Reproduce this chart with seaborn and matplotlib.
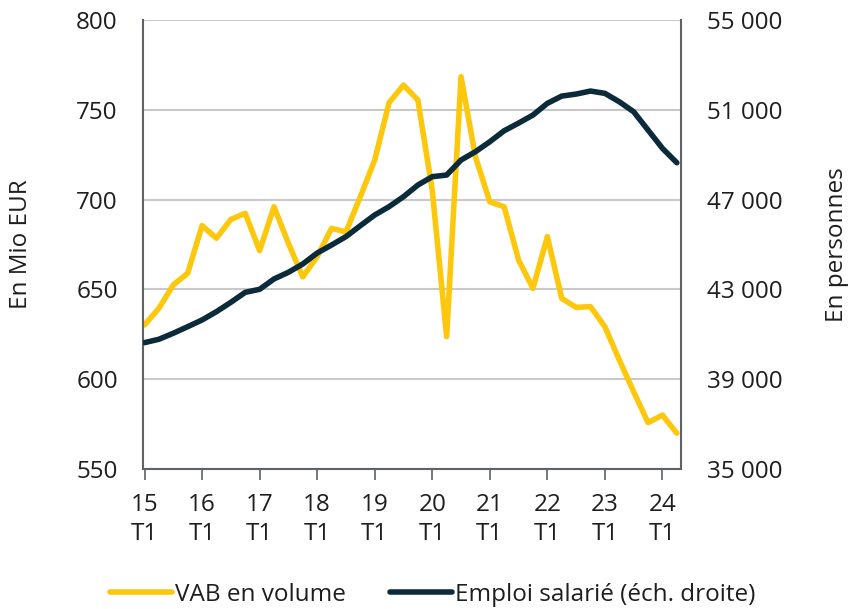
import numpy as np
import pandas as pd
import matplotlib
matplotlib.use("Agg")
import matplotlib.pyplot as plt
import seaborn as sns
from matplotlib.ticker import FuncFormatter, FixedLocator

# -----------------------------
# DATA (quarterly, 2015 T1 -> 2024 T2)
# -----------------------------
years = list(range(15, 25))
vab_volume = [630.2, 639.5, 652.5, 659.0, 685.5, 678.5, 689.0, 692.4, 671.6, 696.0,
              675.7, 657.0, 668.2, 684.0, 682.0, 701.6, 722.0, 754.0, 763.8, 755.5,
              705.3, 623.7, 768.5, 723.9, 698.8, 696.0, 666.4, 650.6, 679.4, 645.0,
              640.0, 640.4, 629.2, 610.7, 593.0, 575.8, 580.0, 569.9]
emploi_salarie = [40627, 40778, 41046, 41339, 41638, 42008, 42424, 42869, 43004, 43465,
                  43762, 44132, 44620, 44978, 45350, 45838, 46315, 46687, 47130, 47651,
                  48022, 48096, 48764, 49134, 49580, 50070, 50410, 50769, 51290, 51615,
                  51704, 51838, 51735, 51361, 50916, 50101, 49286, 48644]

left_ticks = [550, 600, 650, 700, 750, 800]
right_ticks = [35000, 39000, 43000, 47000, 51000, 55000]

YELLOW = "#FDC70C"
NAVY = "#0C2B3A"
SPINE = "#5f6266"
TEXT = "#1e1e1e"
FS = 17.5

df = pd.DataFrame({
    "q": np.arange(len(vab_volume)),
    "vab": vab_volume,
    "emploi": emploi_salarie,
})

# -----------------------------
# PLOT
# -----------------------------
sns.set_theme(style="white")
plt.rcParams["font.family"] = ["Open Sans", "DejaVu Sans"]
plt.rcParams["text.color"] = TEXT
plt.rcParams["axes.labelcolor"] = TEXT
plt.rcParams["xtick.color"] = TEXT
plt.rcParams["ytick.color"] = TEXT

fig, ax = plt.subplots(figsize=(8.5, 6.09), dpi=100)
fig.subplots_adjust(left=0.168, right=0.801, top=0.967, bottom=0.230)
ax2 = ax.twinx()

sns.lineplot(data=df, x="q", y="vab", ax=ax, color=YELLOW, linewidth=4,
             label="VAB en volume", legend=False)
sns.lineplot(data=df, x="q", y="emploi", ax=ax2, color=NAVY, linewidth=4,
             label="Emploi salarié (éch. droite)", legend=False)

ax.set_xlim(-0.12, 37.28)
ax.set_ylim(550, 800)
ax2.set_ylim(35000, 55000)

ax.yaxis.set_major_locator(FixedLocator(left_ticks))
ax2.yaxis.set_major_locator(FixedLocator(right_ticks))
ax2.yaxis.set_major_formatter(FuncFormatter(lambda v, p: f"{int(v):,}".replace(",", " ")))

tick_pos = [4 * i for i in range(len(years))]
ax.set_xticks(tick_pos)
ax.set_xticklabels([f"{y}\nT1" for y in years], linespacing=1.3)

ax.grid(axis="y", color="#c9c9c9", linewidth=1.5)
ax.set_axisbelow(True)
ax2.grid(False)

for a in (ax, ax2):
    for s in a.spines.values():
        s.set_visible(False)
for a, side in ((ax, "left"), (ax2, "right"), (ax, "bottom")):
    a.spines[side].set_visible(True)
    a.spines[side].set_color(SPINE)
    a.spines[side].set_linewidth(1.5)

ax.tick_params(axis="x", bottom=True, length=8, width=1.2, color=SPINE,
               labelsize=FS, pad=9)
ax.tick_params(axis="y", left=False, length=0, labelsize=FS, pad=18)
ax2.tick_params(axis="y", right=False, length=0, labelsize=FS, pad=19)

ax.set_xlabel("")
ax.set_ylabel("En Mio EUR", fontsize=FS, labelpad=31)
ax2.set_ylabel("En personnes", fontsize=FS, labelpad=30, rotation=90)

handles = ax.get_lines()[:1] + ax2.get_lines()[:1]
fig.legend(handles, ["VAB en volume", "Emploi salarié (éch. droite)"],
           loc="center", bbox_to_anchor=(0.509, 0.023), ncol=2, frameon=False,
           fontsize=FS, handlelength=2.55, handletextpad=0.12, columnspacing=1.85)

fig.savefig("out.png", dpi=100)
